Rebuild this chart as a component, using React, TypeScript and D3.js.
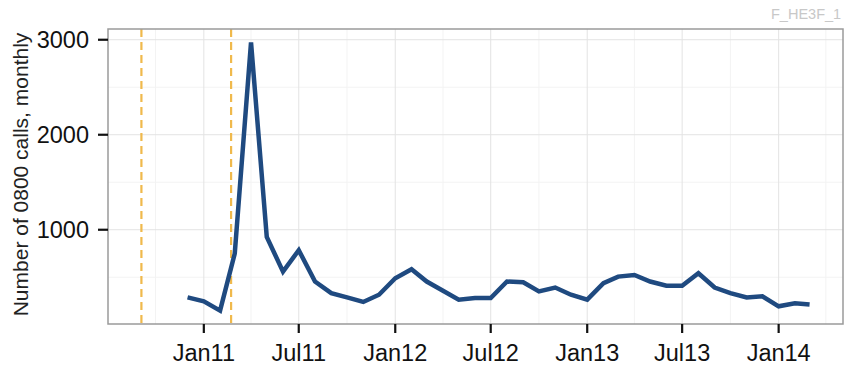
import React from "react";
import * as d3 from "d3";

const W = 844;
const H = 366;

// Monthly 0800 calls, Dec 2010 – Mar 2014
const months: string[] = [
  "2010-12-01", "2011-01-01", "2011-02-01", "2011-03-01", "2011-04-01", "2011-05-01",
  "2011-06-01", "2011-07-01", "2011-08-01", "2011-09-01", "2011-10-01", "2011-11-01",
  "2011-12-01", "2012-01-01", "2012-02-01", "2012-03-01", "2012-04-01", "2012-05-01",
  "2012-06-01", "2012-07-01", "2012-08-01", "2012-09-01", "2012-10-01", "2012-11-01",
  "2012-12-01", "2013-01-01", "2013-02-01", "2013-03-01", "2013-04-01", "2013-05-01",
  "2013-06-01", "2013-07-01", "2013-08-01", "2013-09-01", "2013-10-01", "2013-11-01",
  "2013-12-01", "2014-01-01", "2014-02-01", "2014-03-01",
];
const calls: number[] = [
  288, 247, 149, 750, 2972, 924,
  559, 785, 455, 333, 288, 240,
  316, 490, 585, 455, 358, 264,
  281, 281, 455, 448, 351, 392,
  316, 264, 437, 507, 524, 455,
  410, 410, 542, 392, 333, 288,
  299, 194, 226, 212,
];
// Earthquake dates (dashed reference lines)
const eventDates: string[] = ["2010-09-04", "2011-02-22"];

const xTickDates: string[] = [
  "2011-01-01", "2011-07-01", "2012-01-01", "2012-07-01", "2013-01-01", "2013-07-01", "2014-01-01",
];
const xTickLabels: string[] = ["Jan11", "Jul11", "Jan12", "Jul12", "Jan13", "Jul13", "Jan14"];
const xMinorDates: string[] = [
  "2010-10-01", "2011-04-01", "2011-10-01", "2012-04-01", "2012-10-01", "2013-04-01", "2013-10-01", "2014-04-01",
];
const yTicks: number[] = [1000, 2000, 3000];
const yMinor: number[] = [500, 1500, 2500];

const yTitle = "Number of 0800 calls, monthly";
const watermark = "F_HE3F_1";

const parse = d3.utcParse("%Y-%m-%d");

export default function App() {
  const left = 108, right = 843, top = 29, bottom = 324;
  const data = months.map((m, i) => ({ date: parse(m) as Date, value: calls[i] }));
  const events = eventDates.map((d) => parse(d) as Date);

  const allDates = [...data.map((d) => d.date), ...events];
  const [dMin, dMax] = d3.extent(allDates) as [Date, Date];
  const span = +dMax - +dMin;
  const x = d3
    .scaleUtc()
    .domain([new Date(+dMin - span * 0.05), new Date(+dMax + span * 0.05)])
    .range([left, right]);

  const [vMin, vMax] = d3.extent(calls) as [number, number];
  const vr = vMax - vMin;
  const y = d3
    .scaleLinear()
    .domain([vMin - vr * 0.05, vMax + vr * 0.05])
    .range([bottom, top]);

  const line = d3
    .line<{ date: Date; value: number }>()
    .x((d) => x(d.date))
    .y((d) => y(d.value));

  const font = "'Liberation Sans', Arial, Helvetica, sans-serif";
  const xMinor = xMinorDates.map((d) => parse(d) as Date).filter((d) => x(d) > left && x(d) < right);

  return (
    <svg
      width={W}
      height={H}
      style={{ position: "absolute", left: 0, top: 0, background: "#fff" }}
      fontFamily={font}
    >
      <rect x={0} y={0} width={W} height={H} fill="#fff" />
      <text x={771} y={19} fontSize={14.5} fill="#c8c8c8">{watermark}</text>

      {/* minor grid */}
      {yMinor.map((v) => (
        <line key={"ym" + v} x1={left} x2={right} y1={y(v)} y2={y(v)} stroke="#f3f3f3" strokeWidth={1} />
      ))}
      {xMinor.map((d, i) => (
        <line key={"xm" + i} x1={x(d)} x2={x(d)} y1={top} y2={bottom} stroke="#f3f3f3" strokeWidth={1} />
      ))}
      {/* major grid */}
      {yTicks.map((v) => (
        <line key={"yg" + v} x1={left} x2={right} y1={y(v)} y2={y(v)} stroke="#e3e3e3" strokeWidth={1} />
      ))}
      {xTickDates.map((d, i) => {
        const xx = x(parse(d) as Date);
        return <line key={"xg" + i} x1={xx} x2={xx} y1={top} y2={bottom} stroke="#e3e3e3" strokeWidth={1} />;
      })}

      {/* event lines */}
      {events.map((d, i) => (
        <line
          key={"ev" + i}
          x1={x(d)}
          x2={x(d)}
          y1={top}
          y2={bottom}
          stroke="#f0b94c"
          strokeWidth={2.2}
          strokeDasharray="8,5"
        />
      ))}

      {/* data line */}
      <path
        d={line(data) || ""}
        fill="none"
        stroke="#1f4a80"
        strokeWidth={4.5}
        strokeLinejoin="miter"
        strokeLinecap="butt"
      />

      {/* panel border */}
      <rect x={left} y={top} width={right - left} height={bottom - top} fill="none" stroke="#9a9a9a" strokeWidth={1.5} />

      {/* y axis */}
      {yTicks.map((v) => (
        <g key={"yt" + v}>
          <line x1={left - 10} x2={left} y1={y(v)} y2={y(v)} stroke="#111" strokeWidth={2.2} />
          <text x={89} y={y(v)} dy="0.36em" textAnchor="end" fontSize={23.5} fill="#111">
            {d3.format("d")(v)}
          </text>
        </g>
      ))}
      {/* x axis */}
      {xTickDates.map((d, i) => {
        const xx = x(parse(d) as Date);
        return (
          <g key={"xt" + i}>
            <line x1={xx} x2={xx} y1={bottom} y2={bottom + 9} stroke="#111" strokeWidth={2.2} />
            <text x={xx} y={361} textAnchor="middle" fontSize={23.5} fill="#111">
              {xTickLabels[i]}
            </text>
          </g>
        );
      })}

      <text
        transform={`translate(28, ${(top + bottom) / 2 - 2}) rotate(-90)`}
        textAnchor="middle"
        fontSize={21}
        fill="#222"
      >
        {yTitle}
      </text>
    </svg>
  );
}
